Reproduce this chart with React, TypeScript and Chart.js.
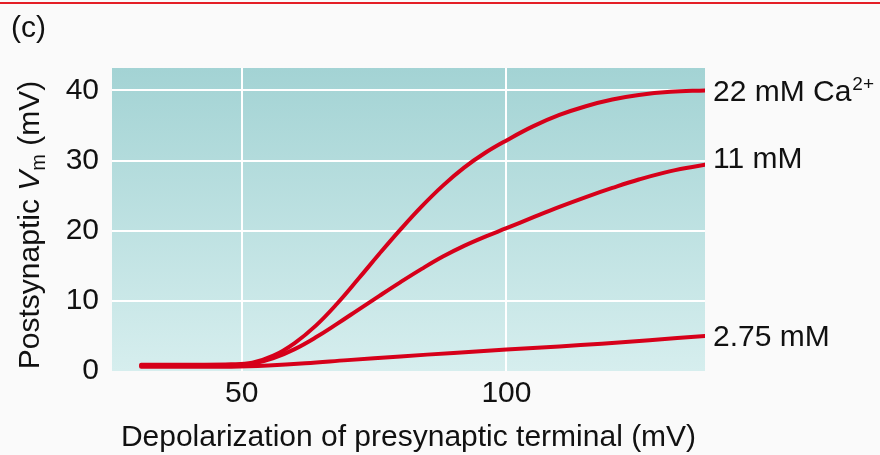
import React, { useEffect, useRef } from "react";
import { Chart, registerables } from "chart.js";

Chart.register(...registerables);

const xTicks = [50, 100];
const yTicks = [0, 10, 20, 30, 40];

const seriesLabels = ["22 mM Ca", "11 mM", "2.75 mM"];
const labelSup = ["2+", "", ""];

const xCurve = [31, 40, 48, 52, 56, 60, 64, 68, 72, 76, 80, 84, 88, 92, 96, 100, 105, 110, 115, 120, 125, 131, 137.5];
const y22 = [0.9, 0.9, 0.95, 1.19, 2.19, 3.99, 6.47, 9.59, 13.11, 16.71, 20.19, 23.47, 26.43, 28.99, 31.11, 32.87, 34.87, 36.5, 37.75, 38.7, 39.35, 39.8, 40.0];
const y11 = [0.75, 0.75, 0.8, 1.04, 1.84, 3.12, 4.8, 6.72, 8.72, 10.72, 12.68, 14.56, 16.32, 17.84, 19.16, 20.36, 21.9, 23.4, 24.8, 26.1, 27.3, 28.5, 29.4];

const x275 = [31, 40, 48, 55, 62, 70, 80, 90, 100, 110, 118, 127, 137.5];
const y275 = [0.6, 0.6, 0.62, 0.8, 1.1, 1.55, 2.08, 2.58, 3.05, 3.5, 3.9, 4.4, 5.0];

const labelAt = [39.8, 30.3, 4.9];

const RED = "rgb(214,0,26)";
const FONT = "'Liberation Sans', Arial, Helvetica, sans-serif";
const FS = 30;

function pts(xs: number[], ys: number[]) {
  return xs.map((x, i) => ({ x, y: ys[i] }));
}

const decorPlugin = {
  id: "decor",
  beforeDraw(chart: any) {
    const { ctx, chartArea: a, width } = chart;
    ctx.save();
    ctx.fillStyle = "#fafafa";
    ctx.fillRect(0, 0, chart.width, chart.height);
    ctx.fillStyle = "rgb(228,30,38)";
    ctx.fillRect(0, 2, width, 2);
    const g = ctx.createLinearGradient(0, a.top, 0, a.bottom);
    g.addColorStop(0, "#a3d3d4");
    g.addColorStop(1, "#d6eeee");
    ctx.fillStyle = g;
    ctx.fillRect(a.left, a.top, a.right - a.left, a.bottom - a.top);
    ctx.restore();
  },
  afterDraw(chart: any) {
    const { ctx, chartArea: a } = chart;
    const ys = chart.scales.y;
    ctx.save();
    ctx.fillStyle = "#111";
    ctx.textBaseline = "middle";
    ctx.textAlign = "left";
    ctx.font = `${FS}px ${FONT}`;
    ctx.fillText("(c)", 11, 29);

    seriesLabels.forEach((t, i) => {
      const y = ys.getPixelForValue(labelAt[i]);
      ctx.font = `${FS}px ${FONT}`;
      ctx.fillText(t, a.right + 8, y + 1);
      if (labelSup[i]) {
        const w = ctx.measureText(t).width;
        ctx.font = `19px ${FONT}`;
        ctx.fillText(labelSup[i], a.right + 8 + w + 1, y - 7);
      }
    });

    ctx.font = `${FS}px ${FONT}`;
    ctx.textAlign = "center";
    ctx.fillText("Depolarization of presynaptic terminal (mV)", (a.left + a.right) / 2, 438);

    ctx.translate(31, 225);
    ctx.rotate(-Math.PI / 2);
    const parts = [
      { t: "Postsynaptic ", f: `${FS}px ${FONT}`, dy: 0 },
      { t: "V", f: `italic ${FS}px ${FONT}`, dy: 0 },
      { t: "m", f: `20px ${FONT}`, dy: 8 },
      { t: " (mV)", f: `${FS}px ${FONT}`, dy: 0 },
    ];
    let total = 0;
    parts.forEach((p) => {
      ctx.font = p.f;
      total += ctx.measureText(p.t).width;
    });
    let x = -total / 2;
    ctx.textAlign = "left";
    parts.forEach((p) => {
      ctx.font = p.f;
      ctx.fillText(p.t, x, p.dy);
      x += ctx.measureText(p.t).width;
    });
    ctx.restore();
  },
};

export default function App() {
  const ref = useRef<HTMLCanvasElement | null>(null);
  useEffect(() => {
    document.body.style.margin = "0";
    document.body.style.background = "#fafafa";
    const ds = (data: any) => ({
      data,
      borderColor: RED,
      borderWidth: 4,
      pointRadius: 0,
      fill: false,
      tension: 0.4,
      borderCapStyle: "round",
      borderJoinStyle: "round",
    });
    const chart = new Chart(ref.current as HTMLCanvasElement, {
      type: "line",
      data: {
        datasets: [ds(pts(x275, y275)), ds(pts(xCurve, y11)), ds(pts(xCurve, y22))] as any,
      },
      options: {
        animation: false,
        responsive: false,
        maintainAspectRatio: false,
        layout: { padding: { left: 0, top: 68, right: 175, bottom: 0 } },
        plugins: { legend: { display: false }, tooltip: { enabled: false } },
        scales: {
          x: {
            type: "linear",
            min: 25.5,
            max: 137.5,
            border: { display: false },
            grid: { color: "#ffffff", lineWidth: 2, drawTicks: false },
            ticks: { color: "#111", font: { size: FS, family: FONT }, padding: 5 },
            afterBuildTicks: (s: any) => {
              s.ticks = xTicks.map((v) => ({ value: v }));
            },
            afterFit: (s: any) => {
              s.height = 84;
            },
          },
          y: {
            type: "linear",
            min: 0,
            max: 43.2,
            border: { display: false },
            grid: {
              color: (c: any) => (c.tick && c.tick.value === 0 ? "rgba(0,0,0,0)" : "#ffffff"),
              lineWidth: 2,
              drawTicks: false,
            },
            ticks: { color: "#111", font: { size: FS, family: FONT }, padding: 13 },
            afterBuildTicks: (s: any) => {
              s.ticks = yTicks.map((v) => ({ value: v }));
            },
            afterFit: (s: any) => {
              s.width = 112;
            },
          },
        },
      } as any,
      plugins: [decorPlugin],
    });
    return () => chart.destroy();
  }, []);
  return (
    <div style={{ width: 880, height: 455 }}>
      <canvas ref={ref} width={880} height={455} style={{ display: "block" }} />
    </div>
  );
}
